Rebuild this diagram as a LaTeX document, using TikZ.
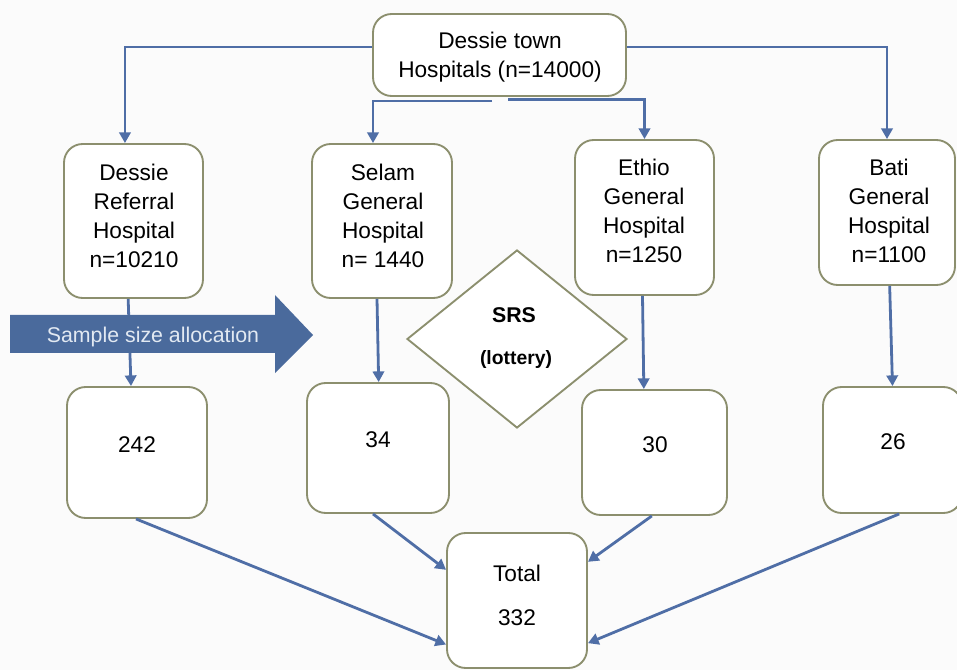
\documentclass[tikz,border=0pt]{standalone}
\usepackage{fontspec}
\setmainfont{Liberation Sans}
\usetikzlibrary{arrows.meta,fit,shapes.geometric}
\definecolor{linecol}{RGB}{79,110,166}
\definecolor{boxcol}{RGB}{140,143,110}
\definecolor{arrowfill}{RGB}{74,106,156}
\definecolor{arrowtext}{RGB}{226,233,242}
\definecolor{bgcol}{RGB}{251,251,251}
\begin{document}
\begin{tikzpicture}[x=0.75pt,y=-0.75pt,
  box/.style={draw=boxcol,line width=1.4pt,rounded corners=14pt,fill=white,inner sep=0pt},
  txt/.style={inner sep=0pt,align=center,font=\fontsize{17}{21.75}\selectfont},
  conn/.style={draw=linecol,line width=2.1pt,-{Triangle[length=8pt,width=8.5pt]}}]
\useasboundingbox (0,0) rectangle (957,670);
\fill[bgcol] (0,0) rectangle (957,670);

% top
\node[box,fit={(373,14) (626,96)}] (top) {};
\node[txt] (topt) at (500,57) {Dessie town\\Hospitals (n=14000)};
% hospitals
\node[box,fit={(64,144) (203,298)}] (ref) {};
\node[txt] (reft) at (134,216) {Dessie\\Referral\\Hospital\\n=10210};
\node[box,fit={(312,144) (452,298)}] (selam) {};
\node[txt] (selamt) at (383,216) {Selam\\General\\Hospital\\n= 1440};
\node[box,fit={(575,140) (714,295)}] (ethio) {};
\node[txt] (ethiot) at (644,211) {Ethio\\General\\Hospital\\n=1250};
\node[box,fit={(819,140) (955,285)}] (bati) {};
\node[txt] (batit) at (889,211) {Bati\\General\\Hospital\\n=1100};
% samples
\node[box,fit={(67,387) (207,518)}] (n242) {};
\node[txt] (n242t) at (137,445) {242};
\node[box,fit={(307,383) (449,513)}] (n34) {};
\node[txt] (n34t) at (378,440) {34};
\node[box,fit={(582,390) (727,515)}] (n30) {};
\node[txt] (n30t) at (655,445) {30};
\node[box,fit={(823,387) (962,513)}] (n26) {};
\node[txt] (n26t) at (893,442) {26};
\node[box,fit={(447,533) (587,668)}] (total) {};
\node[txt] (totalt) at (517,595) {Total\\[11.25pt]332};

% SRS diamond
\node[diamond,draw=boxcol,line width=1.4pt,fill=white,minimum width=165pt,minimum height=133.5pt,inner sep=0pt] (srs) at (517,339) {};
\node[inner sep=0pt,font=\bfseries\fontsize{16}{20}\selectfont] (srst) at (514,315) {SRS};
\node[inner sep=0pt,font=\bfseries\fontsize{14.5}{18}\selectfont] (lott) at (516,360) {(lottery)};

% top connectors
\draw[conn] ([yshift=6pt]top.west) -| ([xshift=-6.4pt]ref.north);
\draw[conn] ([yshift=6pt]top.east) -| (bati.north);
\draw[conn] ([xshift=-5.6pt,yshift=-3pt]top.south) -| ([xshift=-6.75pt]selam.north);
\draw[conn] ([xshift=6.5pt,yshift=-1.8pt]top.south) -| (ethio.north);

% down connectors
\draw[conn] ([xshift=-4pt]ref.south) -- ([xshift=-4.5pt]n242.north);
\draw[conn] ([xshift=-3.75pt]selam.south) -- ([xshift=0.5pt]n34.north);
\draw[conn] ([xshift=-1.5pt]ethio.south) -- ([xshift=-8pt]n30.north);
\draw[conn] ([xshift=2pt]bati.south) -- (n26.north);

% to total
\draw[conn] ([xshift=-0.75pt]n242.south) -- ([yshift=-33pt]total.west);
\draw[conn] ([xshift=-3.75pt]n34.south) -- ([yshift=23pt]total.west);
\draw[conn] ([xshift=-2pt]n30.south) -- ([yshift=29pt]total.east);
\draw[conn] ([xshift=5pt]n26.south) -- ([yshift=-32pt]total.east);

% sample size allocation arrow
\fill[arrowfill] (10,315) -- (275,315) -- (275,295) -- (313,335) -- (275,373) -- (275,353) -- (10,353) -- cycle;
\node[text=arrowtext,inner sep=0pt,font=\fontsize{16}{19}\selectfont] (alloc) at (153,337) {Sample size allocation};
\end{tikzpicture}
\end{document}
